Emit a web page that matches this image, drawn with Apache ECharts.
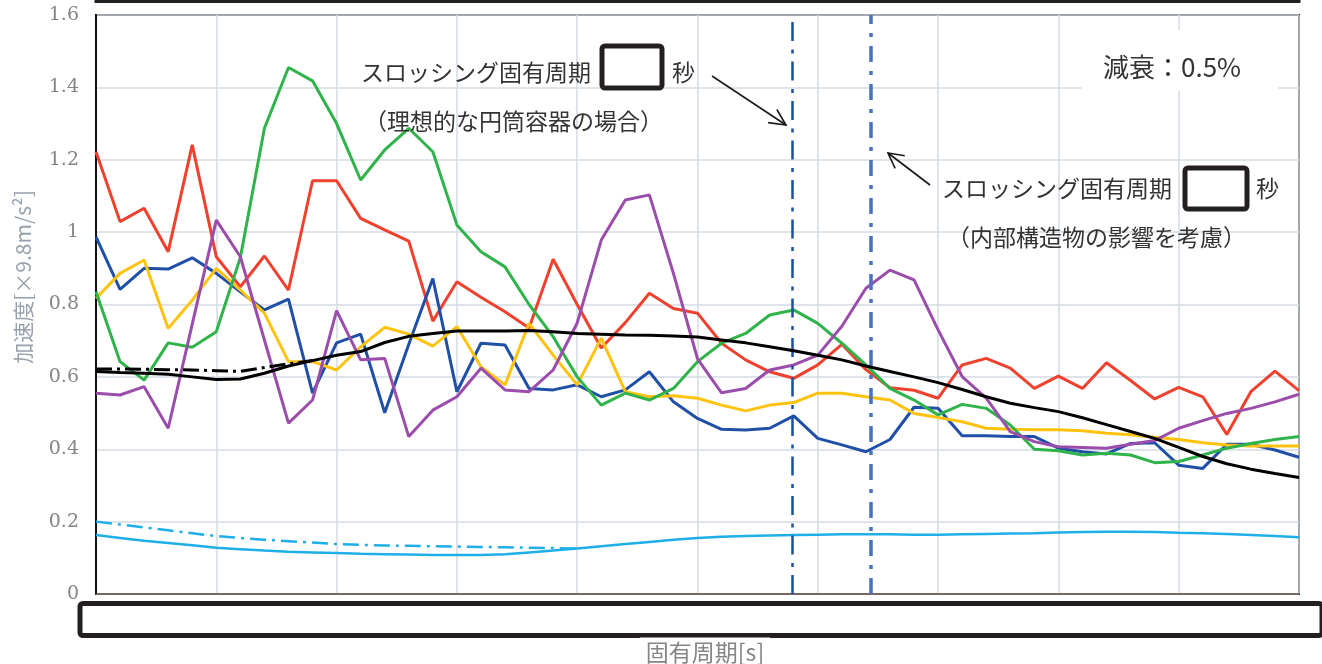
<!DOCTYPE html>
<html>
<head>
<meta charset="utf-8">
<script src="https://cdn.jsdelivr.net/npm/echarts@6/dist/echarts.min.js"></script>
<style>
html,body{margin:0;padding:0;background:#fff;}
#chart{width:1322px;height:664px;}
</style>
</head>
<body>
<div id="chart"></div>
<script>
// period steps (x axis is redacted; 51 evenly spaced period points)
const periodCount = 51;
const yTicks = [0, 0.2, 0.4, 0.6, 0.8, 1, 1.2, 1.4, 1.6];

const redSeries = [1.222,1.029,1.066,0.946,1.241,0.932,0.849,0.934,0.84,1.142,1.142,1.038,1.006,0.975,0.754,0.863,0.82,0.78,0.735,0.925,0.80,0.68,0.75,0.831,0.789,0.776,0.693,0.647,0.614,0.596,0.633,0.69,0.62,0.57,0.563,0.541,0.633,0.651,0.624,0.568,0.602,0.568,0.639,0.59,0.539,0.571,0.545,0.441,0.559,0.616,0.562];
const blueSeries = [0.987,0.842,0.90,0.898,0.929,0.886,0.835,0.785,0.815,0.555,0.694,0.718,0.501,0.69,0.872,0.559,0.693,0.688,0.568,0.564,0.578,0.545,0.564,0.614,0.531,0.485,0.455,0.453,0.458,0.492,0.43,0.412,0.393,0.427,0.516,0.513,0.437,0.437,0.435,0.435,0.403,0.393,0.387,0.416,0.418,0.356,0.347,0.414,0.414,0.398,0.378];
const yellowSeries = [0.817,0.886,0.923,0.734,0.812,0.90,0.84,0.776,0.642,0.642,0.619,0.683,0.737,0.718,0.685,0.739,0.628,0.578,0.748,0.66,0.578,0.707,0.559,0.545,0.548,0.541,0.522,0.506,0.522,0.529,0.555,0.555,0.545,0.536,0.499,0.488,0.476,0.458,0.455,0.454,0.454,0.451,0.444,0.44,0.433,0.427,0.418,0.412,0.409,0.409,0.409];
const greenSeries = [0.835,0.642,0.591,0.694,0.682,0.725,0.93,1.287,1.455,1.418,1.30,1.144,1.227,1.287,1.222,1.02,0.946,0.904,0.80,0.711,0.60,0.522,0.555,0.536,0.568,0.642,0.693,0.72,0.771,0.785,0.748,0.693,0.633,0.568,0.536,0.495,0.524,0.513,0.467,0.40,0.396,0.384,0.389,0.384,0.363,0.366,0.384,0.403,0.416,0.427,0.435];
const purpleSeries = [0.555,0.55,0.573,0.458,0.746,1.033,0.932,0.702,0.472,0.536,0.783,0.647,0.651,0.435,0.508,0.545,0.624,0.564,0.559,0.619,0.749,0.978,1.089,1.103,0.886,0.65,0.556,0.568,0.619,0.633,0.66,0.74,0.845,0.895,0.868,0.73,0.601,0.541,0.449,0.421,0.407,0.405,0.403,0.414,0.424,0.458,0.479,0.499,0.513,0.531,0.552];
const blackSeries = [0.615,0.612,0.61,0.607,0.6,0.593,0.594,0.61,0.63,0.645,0.66,0.67,0.695,0.712,0.72,0.727,0.727,0.727,0.728,0.725,0.72,0.718,0.716,0.715,0.713,0.71,0.702,0.694,0.683,0.672,0.66,0.647,0.63,0.615,0.6,0.584,0.565,0.545,0.527,0.515,0.504,0.487,0.468,0.449,0.43,0.405,0.38,0.36,0.345,0.333,0.322];
const blackAltSeries = [0.622,0.622,0.621,0.62,0.619,0.617,0.615,0.626,0.636,0.645];
const cyanSeries = [0.163,0.155,0.147,0.141,0.135,0.128,0.124,0.12,0.117,0.115,0.113,0.111,0.11,0.109,0.108,0.108,0.108,0.11,0.115,0.12,0.126,0.132,0.138,0.144,0.15,0.155,0.158,0.16,0.162,0.163,0.164,0.165,0.165,0.165,0.164,0.164,0.165,0.166,0.167,0.168,0.17,0.171,0.172,0.172,0.171,0.169,0.168,0.166,0.163,0.16,0.157];
const cyanAltSeries = [0.2,0.192,0.184,0.176,0.168,0.16,0.155,0.15,0.146,0.142,0.138,0.136,0.134,0.133,0.132,0.131,0.13,0.129,0.128,0.127,0.126];
// sloshing natural periods (position on the period axis)
const sloshPeriods = [28.92, 32.2];

const toPairs = arr => arr.map((v, i) => [i, v]);
function line(name, data, color, width, type, z) {
  return {
    name, type: 'line', data: toPairs(data), symbol: 'none', z: z || 2,
    lineStyle: { color, width, type: type || 'solid' }, silent: true, animation: false
  };
}

const chart = echarts.init(document.getElementById('chart'), null, { renderer: 'canvas' });

function arrow(tail, tip, len, angDeg) {
  const dx = tip[0] - tail[0], dy = tip[1] - tail[1];
  const L = Math.hypot(dx, dy), ux = dx / L, uy = dy / L;
  const a = angDeg * Math.PI / 180;
  const r1 = [ux * Math.cos(a) - uy * Math.sin(a), ux * Math.sin(a) + uy * Math.cos(a)];
  const r2 = [ux * Math.cos(-a) - uy * Math.sin(-a), ux * Math.sin(-a) + uy * Math.cos(-a)];
  const st = { stroke: '#1a1a1a', lineWidth: 1.6, fill: null };
  return [
    { type: 'line', z: 100, shape: { x1: tail[0], y1: tail[1], x2: tip[0], y2: tip[1] }, style: st },
    { type: 'polyline', z: 100, shape: { points: [[tip[0] - len * r1[0], tip[1] - len * r1[1]], tip, [tip[0] - len * r2[0], tip[1] - len * r2[1]]] }, style: st }
  ];
}

const jp = '"Noto Sans CJK JP", sans-serif';
function txt(text, x, y, size, color, extra) {
  return Object.assign({
    type: 'text', z: 101, x, y,
    style: { text, fill: color || '#333', font: size + 'px ' + jp, align: 'left', verticalAlign: 'middle' }
  }, extra || {});
}
function box(x, y, w, h, lw) {
  return { type: 'rect', z: 100, shape: { x, y, width: w, height: h, r: 3 }, style: { fill: '#fff', stroke: '#231f20', lineWidth: lw } };
}

const option = {
  backgroundColor: '#fff',
  animation: false,
  grid: { left: 96, right: 23, top: 15, bottom: 70, show: true, borderColor: '#111', borderWidth: 2, backgroundColor: 'transparent' },
  xAxis: {
    type: 'value', min: 0, max: periodCount - 1, interval: 5,
    axisLabel: { show: false }, axisTick: { show: false },
    axisLine: { show: true, lineStyle: { color: '#6b5048', width: 1.5 } },
    splitLine: { show: true, lineStyle: { color: '#d3dbe3', width: 1.5 } }
  },
  yAxis: {
    type: 'value', min: yTicks[0], max: yTicks[yTicks.length - 1], interval: 0.2,
    axisLine: { show: true, lineStyle: { color: '#111', width: 2 } },
    axisTick: { show: false },
    splitLine: { show: true, lineStyle: { color: '#d3dbe3', width: 1.5 } },
    axisLabel: {
      margin: 17, color: '#858585', fontSize: 19, fontFamily: '"DejaVu Serif", serif',
      formatter: v => (Math.abs(v - Math.round(v)) < 1e-9 ? String(Math.round(v)) : v.toFixed(1))
    }
  },
  series: [
    line('cyan-alt', cyanAltSeries, '#1eaee8', 2.5, [16, 6, 3, 6], 2),
    line('cyan', cyanSeries, '#1eaee8', 2.5, 'solid', 2),
    line('red', redSeries, '#f0412f', 3, 'solid', 3),
    line('blue', blueSeries, '#1f4fa6', 3, 'solid', 3),
    line('yellow', yellowSeries, '#ffc20e', 3, 'solid', 3),
    line('green', greenSeries, '#2fb34a', 3, 'solid', 4),
    line('purple', purpleSeries, '#9b4dab', 3, 'solid', 4),
    line('black-alt', blackAltSeries, '#000', 3, [16, 5, 3, 5], 5),
    Object.assign(line('black', blackSeries, '#000', 3, 'solid', 5), {
      markLine: {
        silent: true, symbol: ['none', 'none'], label: { show: false }, animation: false,
        data: [
          { xAxis: sloshPeriods[0], lineStyle: { color: '#1d4fa3', width: 2.5, type: [19, 8, 4, 8.5] } },
          { xAxis: sloshPeriods[1], lineStyle: { color: '#4472c4', width: 3.5, type: [16, 9, 4, 9] } }
        ]
      }
    })
  ],
  graphic: [
    // top redaction edge
    { type: 'rect', z: 100, shape: { x: 96, y: -20, width: 1203, height: 21.5 }, style: { fill: '#fff', stroke: '#231f20', lineWidth: 3 } },
    // bottom redaction box (x axis labels)
    { type: 'rect', z: 100, shape: { x: 80, y: 603.5, width: 1242, height: 32, r: 3 }, style: { fill: '#fff', stroke: '#231f20', lineWidth: 5 } },
    txt('固有周期[s]', 705, 652, 23, '#858585', { style: { text: '固有周期[s]', fill: '#858585', font: '23px ' + jp, align: 'center', verticalAlign: 'middle', backgroundColor: '#fff', padding: [3, 6] } }),
    // y axis name
    { type: 'text', z: 101, x: 23, y: 277, rotation: Math.PI / 2,
      style: { text: '加速度[×9.8m/s²]', fill: '#98a2ac', font: '21px ' + jp, align: 'center', verticalAlign: 'middle' } },
    // damping label
    { type: 'rect', z: 100, shape: { x: 1082, y: 30, width: 196, height: 61 }, style: { fill: '#fff' } },
    txt('減衰：0.5%', 1103, 67, 26, '#333'),
    // annotation 1
    txt('スロッシング固有周期', 361, 72, 23, '#333'),
    box(602, 46, 60, 42, 5),
    txt('秒', 672, 72, 23, '#333'),
    txt('（理想的な円筒容器の場合）', 364, 121, 23, '#333'),
    ...arrow([712, 76], [786, 125], 18, 26),
    // annotation 2
    txt('スロッシング固有周期', 942, 188, 23, '#333'),
    box(1185, 168, 62, 41, 5),
    txt('秒', 1256, 188, 23, '#333'),
    txt('（内部構造物の影響を考慮）', 947, 237, 23, '#333'),
    ...arrow([930, 185], [888, 153], 17, 28)
  ]
};
chart.setOption(option);
</script>
</body>
</html>
